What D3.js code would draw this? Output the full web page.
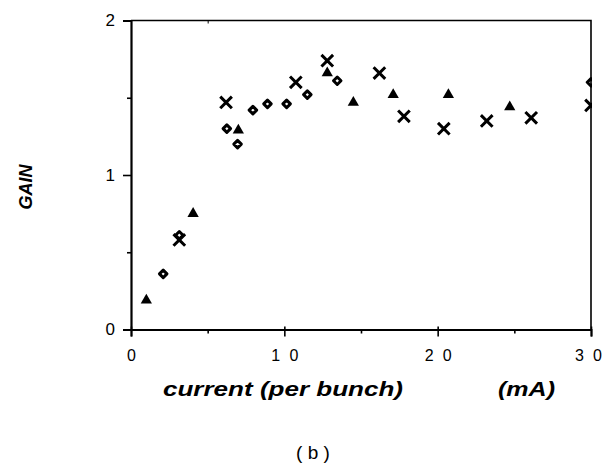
<!DOCTYPE html>
<html>
<head>
<meta charset="utf-8">
<script src="https://cdn.jsdelivr.net/npm/d3@7"></script>
<style>
  body { margin: 0; background: #fff; }
  text { font-family: "Liberation Sans", Arial, sans-serif; fill: #000; }
</style>
</head>
<body>
<div class="svg-target"></div>
<script>
// Data: [current (mA), gain]
const triangles = [[1.0, 0.19], [4.05, 0.75], [7.0, 1.29], [12.8, 1.66], [14.5, 1.47],
                   [17.1, 1.52], [20.7, 1.52], [24.7, 1.44]];
const diamonds = [[2.1, 0.36], [3.15, 0.61], [6.25, 1.30], [6.95, 1.20], [7.95, 1.42],
                  [8.9, 1.46], [10.15, 1.46], [11.5, 1.52], [13.45, 1.61], [30, 1.6]];
const crosses = [[3.15, 0.58], [6.2, 1.47], [10.75, 1.60], [12.8, 1.74], [16.2, 1.66],
                 [17.8, 1.38], [20.4, 1.30], [23.2, 1.35], [26.1, 1.37], [30, 1.45]];

const xMajor = [0, 10, 20, 30];
const xMinor = [5, 15, 25];
const yMajor = [0, 1, 2];
const yMinor = [0.5, 1.5];

const w = 605;
const h = 466;
const padding = {t: 20.5, r: 14, b: 136.5, l: 131};

const svg = d3.select('.svg-target')
    .append('svg')
    .attr('width', w)
    .attr('height', h);

const xScale = d3.scaleLinear()
    .domain([0, 30])
    .range([padding.l, w - padding.r]);
const yScale = d3.scaleLinear()
    .domain([0, 2])
    .range([h - padding.b, padding.t]);

// frame (top and right)
svg.append('path')
    .attr('d', `M${xScale(0)},${yScale(2)}H${xScale(30)}V${yScale(0)}`)
    .attr('fill', 'none')
    .attr('stroke', '#000')
    .attr('stroke-width', 1.6);

// small inner tick on the top edge
svg.append('g')
    .attr('transform', `translate(0, ${yScale(2)})`)
    .call(d3.axisBottom(xScale).tickValues([5]).tickSize(3).tickFormat(''))
    .call(g => g.select('.domain').remove());

// x axis
const xAxis = svg.append('g')
    .attr('transform', `translate(0, ${yScale(0)})`)
    .call(d3.axisBottom(xScale).tickValues(xMajor).tickSize(7).tickPadding(13));
xAxis.select('.domain').attr('stroke-width', 2);
xAxis.selectAll('.tick line').attr('stroke-width', 1.6).attr('y1', -3);
xAxis.selectAll('.tick text')
    .attr('font-size', 16)
    .attr('fill', '#000')
    .attr('dx', d => d === 30 ? -3 : 0)
    .filter(d => d >= 10)
    .attr('textLength', 27)
    .attr('lengthAdjust', 'spacing');
svg.append('g')
    .attr('transform', `translate(0, ${yScale(0)})`)
    .call(d3.axisBottom(xScale).tickValues(xMinor).tickSize(4).tickFormat(''))
    .call(g => g.select('.domain').remove())
    .selectAll('line').attr('stroke-width', 1.6);

// y axis
const yAxis = svg.append('g')
    .attr('transform', `translate(${xScale(0)}, 0)`)
    .call(d3.axisLeft(yScale).tickValues(yMajor).tickSize(8).tickPadding(8).tickFormat(d3.format('d')));
yAxis.select('.domain').attr('stroke-width', 2.2);
yAxis.selectAll('.tick line').attr('stroke-width', 1.6);
yAxis.selectAll('.tick text').attr('font-size', 17).attr('fill', '#000');
svg.append('g')
    .attr('transform', `translate(${xScale(0)}, 0)`)
    .call(d3.axisLeft(yScale).tickValues(yMinor).tickSize(4).tickFormat(''))
    .call(g => g.select('.domain').remove())
    .selectAll('line').attr('stroke-width', 1.6);

// titles
svg.append('text')
    .attr('transform', 'translate(32, 187) rotate(-90)')
    .attr('text-anchor', 'middle')
    .attr('font-size', 18)
    .attr('font-weight', 'bold')
    .attr('font-style', 'italic')
    .text('GAIN');

svg.append('text')
    .attr('x', 163)
    .attr('y', 396)
    .attr('font-size', 21)
    .attr('font-weight', 'bold')
    .attr('font-style', 'italic')
    .attr('textLength', 240)
    .attr('lengthAdjust', 'spacingAndGlyphs')
    .text('current (per bunch)');

svg.append('text')
    .attr('x', 498)
    .attr('y', 396)
    .attr('font-size', 21)
    .attr('font-weight', 'bold')
    .attr('font-style', 'italic')
    .attr('textLength', 57)
    .attr('lengthAdjust', 'spacingAndGlyphs')
    .text('(mA)');

svg.append('text')
    .attr('x', 313)
    .attr('y', 459)
    .attr('text-anchor', 'middle')
    .attr('font-family', '"Liberation Serif", "Times New Roman", serif')
    .attr('font-size', 19)
    .text('( b )');

// markers, clipped to the plot frame
svg.append('clipPath')
    .attr('id', 'plot-clip')
    .append('rect')
    .attr('x', xScale(0))
    .attr('y', yScale(2))
    .attr('width', xScale(30) - xScale(0) + 1)
    .attr('height', yScale(0) - yScale(2));

const marks = svg.append('g').attr('clip-path', 'url(#plot-clip)');

marks.selectAll('.tri')
    .data(triangles)
    .join('path')
    .attr('class', 'tri')
    .attr('transform', d => `translate(${xScale(d[0])}, ${yScale(d[1])})`)
    .attr('d', d3.symbol(d3.symbolTriangle, 55))
    .attr('fill', '#000');

marks.selectAll('.dia')
    .data(diamonds)
    .join('path')
    .attr('class', 'dia')
    .attr('transform', d => `translate(${xScale(d[0])}, ${yScale(d[1])})`)
    .attr('d', d3.symbol(d3.symbolDiamond2, 36))
    .attr('fill', 'none')
    .attr('stroke', '#000')
    .attr('stroke-width', 3)
    .attr('stroke-linejoin', 'round');

marks.selectAll('.cross')
    .data(crosses)
    .join('path')
    .attr('class', 'cross')
    .attr('transform', d => `translate(${xScale(d[0])}, ${yScale(d[1])})`)
    .attr('d', d3.symbol(d3.symbolTimes, 90))
    .attr('fill', 'none')
    .attr('stroke', '#000')
    .attr('stroke-width', 3);
</script>
</body>
</html>
